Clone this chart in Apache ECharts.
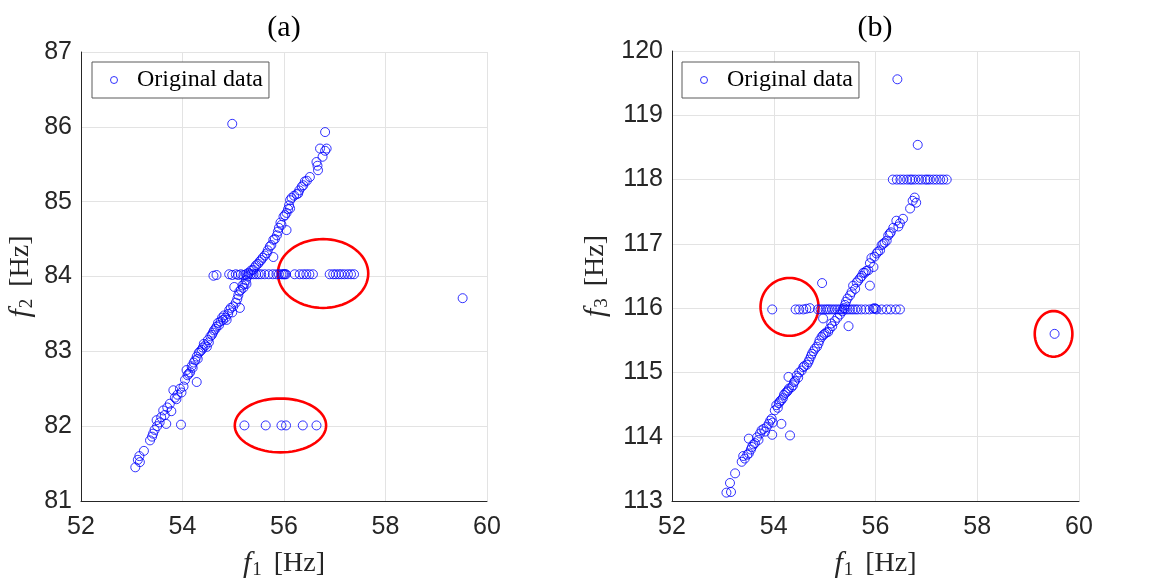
<!DOCTYPE html>
<html>
<head>
<meta charset="utf-8">
<title>f1-f2 / f1-f3 scatter</title>
<script src="https://cdn.jsdelivr.net/npm/echarts@6/dist/echarts.min.js"></script>
<style>
  html, body { margin: 0; padding: 0; background: #fff; }
  #chart { width: 1153px; height: 579px; }
</style>
</head>
<body>
<div id="chart"></div>
<script>
// ---- data ----
// (a) f1 vs f2 : main diagonal branch
const branchA = [
  [53.07, 81.45], [53.12, 81.55], [53.15, 81.6], [53.16, 81.52], [53.24, 81.67], [53.36, 81.81],
  [53.4, 81.86], [53.42, 81.9], [53.45, 81.95], [53.49, 82.08], [53.5, 82.0], [53.55, 82.05],
  [53.58, 82.12], [53.62, 82.21], [53.65, 82.15], [53.68, 82.03], [53.7, 82.25], [53.75, 82.3],
  [53.78, 82.2], [53.82, 82.48], [53.85, 82.38], [53.88, 82.36], [53.9, 82.42], [53.95, 82.5],
  [53.98, 82.45], [54.02, 82.53], [54.05, 82.62], [54.08, 82.75], [54.1, 82.68], [54.12, 82.7],
  [54.15, 82.72], [54.18, 82.8], [54.2, 82.78], [54.22, 82.85], [54.25, 82.88], [54.28, 82.93],
  [54.28, 82.59], [54.3, 82.9], [54.32, 82.98], [54.35, 83.0], [54.38, 83.02], [54.4, 83.05],
  [54.42, 83.1], [54.45, 83.08], [54.48, 83.06], [54.5, 83.15], [54.52, 83.12], [54.55, 83.2],
  [54.58, 83.22], [54.6, 83.25], [54.62, 83.28], [54.65, 83.3], [54.67, 83.33], [54.7, 83.38],
  [54.72, 83.35], [54.75, 83.4], [54.78, 83.45], [54.8, 83.42], [54.82, 83.48], [54.85, 83.45],
  [54.87, 83.42], [54.9, 83.5], [54.92, 83.55], [54.95, 83.58], [54.98, 83.52], [55.0, 83.6],
  [55.02, 83.86], [55.05, 83.65], [55.08, 83.7], [55.1, 83.75], [55.12, 83.8], [55.13, 83.58],
  [55.15, 83.82], [55.18, 83.88], [55.2, 83.85], [55.22, 83.9], [55.25, 83.95], [55.26, 83.9],
  [55.28, 84.0], [55.3, 84.05], [55.35, 84.08], [55.39, 84.09], [55.42, 84.12], [55.45, 84.15],
  [55.49, 84.17], [55.52, 84.2], [55.55, 84.22], [55.58, 84.25], [55.62, 84.28], [55.66, 84.31],
  [55.68, 84.35], [55.72, 84.4], [55.75, 84.42], [55.79, 84.49], [55.79, 84.26], [55.82, 84.5],
  [55.86, 84.55], [55.88, 84.6], [55.9, 84.65], [55.93, 84.72], [55.95, 84.69], [55.99, 84.8],
  [56.02, 84.82], [56.05, 84.62], [56.05, 84.85], [56.08, 84.9], [56.1, 84.95], [56.12, 84.91],
  [56.12, 85.02], [56.15, 85.05], [56.2, 85.08], [56.25, 85.1], [56.28, 85.11], [56.3, 85.15],
  [56.35, 85.2], [56.38, 85.22], [56.41, 85.27], [56.45, 85.28], [56.51, 85.33], [56.64, 85.53],
  [56.66, 85.48], [56.67, 85.42], [56.71, 85.71], [56.76, 85.6], [56.81, 85.68], [56.84, 85.71],
  [56.81, 85.93]
]
// (a) plateau near 84 Hz
const plateauA84 = [
  [54.61, 84.01], [54.67, 84.02], [54.92, 84.03], [54.98, 84.02], [55.05, 84.03], [55.1, 84.02],
  [55.15, 84.03], [55.2, 84.02], [55.25, 84.03], [55.3, 84.03], [55.35, 84.03], [55.4, 84.03],
  [55.45, 84.03], [55.5, 84.03], [55.55, 84.03], [55.62, 84.03], [55.7, 84.03], [55.78, 84.03],
  [55.85, 84.03], [55.9, 84.03], [55.95, 84.03], [55.98, 84.03], [56.0, 84.03], [56.02, 84.03],
  [56.04, 84.03], [56.21, 84.03], [56.31, 84.03], [56.38, 84.03], [56.44, 84.03], [56.5, 84.03],
  [56.57, 84.03], [56.9, 84.03], [56.97, 84.03], [57.02, 84.03], [57.08, 84.03], [57.13, 84.03],
  [57.19, 84.03], [57.26, 84.03], [57.32, 84.03], [57.38, 84.03]
]
// (a) plateau near 82 Hz
const plateauA82 = [
  [55.22, 82.01], [55.64, 82.01], [55.95, 82.01], [56.04, 82.01], [56.37, 82.01], [56.64, 82.01]
]
// (a) isolated points
const outliersA = [[54.98, 86.04], [53.97, 82.02], [59.52, 83.71]]

// (b) f1 vs f3 : main diagonal branch
const branchB = [
  [53.07, 113.13], [53.16, 113.14], [53.14, 113.28], [53.24, 113.43], [53.37, 113.61], [53.43, 113.66],
  [53.4, 113.7], [53.48, 113.72], [53.51, 113.74], [53.51, 113.97], [53.55, 113.8], [53.57, 113.84],
  [53.6, 113.88], [53.63, 113.9], [53.67, 113.99], [53.7, 113.95], [53.73, 114.05], [53.76, 114.1],
  [53.8, 114.12], [53.83, 114.08], [53.86, 114.15], [53.9, 114.2], [53.93, 114.25], [53.96, 114.28],
  [53.97, 114.03], [53.98, 114.22], [54.02, 114.41], [54.05, 114.49], [54.08, 114.45], [54.1, 114.52],
  [54.12, 114.55], [54.15, 114.57], [54.15, 114.2], [54.18, 114.6], [54.2, 114.65], [54.23, 114.68],
  [54.26, 114.7], [54.28, 114.72], [54.29, 114.93], [54.3, 114.75], [54.35, 114.77], [54.38, 114.8],
  [54.4, 114.85], [54.42, 114.87], [54.45, 114.95], [54.48, 114.92], [54.5, 115.0], [54.55, 115.03],
  [54.58, 115.08], [54.6, 115.1], [54.65, 115.12], [54.68, 115.16], [54.7, 115.2], [54.73, 115.25],
  [54.75, 115.29], [54.78, 115.33], [54.81, 115.37], [54.85, 115.4], [54.88, 115.45], [54.9, 115.5],
  [54.94, 115.55], [54.97, 115.58], [54.97, 115.84], [55.0, 115.6], [55.03, 115.62], [55.07, 115.63],
  [55.1, 115.68], [55.13, 115.76], [55.15, 115.72], [55.2, 115.8], [55.25, 115.85], [55.3, 115.9],
  [55.35, 115.95], [55.38, 116.0], [55.4, 116.05], [55.42, 116.1], [55.45, 116.15], [55.47, 115.72],
  [55.5, 116.2], [55.53, 116.25], [55.56, 116.35], [55.6, 116.3], [55.63, 116.4], [55.66, 116.43],
  [55.7, 116.47], [55.73, 116.5], [55.76, 116.55], [55.79, 116.55], [55.82, 116.58], [55.86, 116.59],
  [55.89, 116.35], [55.89, 116.7], [55.92, 116.78], [55.96, 116.64], [55.98, 116.8], [56.02, 116.85],
  [56.05, 116.88], [56.09, 116.9], [56.12, 116.98], [56.15, 117.0], [56.18, 117.02], [56.22, 117.05],
  [56.25, 117.13], [56.28, 117.16], [56.3, 117.18], [56.35, 117.25], [56.41, 117.36], [56.45, 117.27],
  [56.48, 117.32], [56.54, 117.39], [56.68, 117.55], [56.73, 117.67], [56.77, 117.72], [56.8, 117.64]
]
// (b) plateau near 116 Hz
const plateauB116 = [
  [53.97, 115.98], [54.43, 115.98], [54.5, 115.98], [54.58, 115.98], [54.64, 115.99], [54.71, 116.0],
  [54.87, 115.98], [54.92, 115.98], [54.97, 115.98], [55.02, 115.98], [55.06, 115.98], [55.1, 115.98],
  [55.15, 115.98], [55.2, 115.98], [55.25, 115.98], [55.3, 115.98], [55.35, 115.98], [55.4, 115.98],
  [55.45, 115.98], [55.5, 115.98], [55.55, 115.98], [55.6, 115.98], [55.65, 115.98], [55.72, 115.98],
  [55.8, 115.98], [55.88, 115.98], [55.95, 115.99], [55.98, 116.0], [56.0, 115.99], [56.02, 115.98],
  [56.12, 115.98], [56.22, 115.98], [56.3, 115.98], [56.4, 115.98], [56.48, 115.98]
]
// (b) plateau near 118 Hz
const plateauB118 = [
  [56.34, 118.0], [56.42, 118.0], [56.49, 118.0], [56.55, 118.0], [56.62, 118.0], [56.68, 118.0],
  [56.72, 118.0], [56.78, 118.0], [56.85, 118.0], [56.91, 118.0], [56.98, 118.0], [57.02, 118.0],
  [57.07, 118.0], [57.14, 118.0], [57.2, 118.0], [57.27, 118.0], [57.33, 118.0], [57.4, 118.0]
]
// (b) isolated points
const outliersB = [[54.95, 116.39], [56.43, 119.56], [56.83, 118.54], [54.32, 114.02], [59.52, 115.6]]

// red highlight ellipses: [centre f1, centre f, half-width, half-height] in Hz
const ellipsesA = [[56.77, 84.04, 0.89, 0.46], [55.93, 82.01, 0.9, 0.36]]
const ellipsesB = [[54.31, 116.02, 0.57, 0.45], [59.5, 115.6, 0.37, 0.355]]

// axis ranges / ticks
const xTicks = { min: 52, max: 60, interval: 2 }
const yTicksA = { min: 81, max: 87, interval: 1 }
const yTicksB = { min: 113, max: 120, interval: 1 }

const chart = echarts.init(document.getElementById('chart'))

const serif = '"Liberation Serif", "DejaVu Serif", serif'
const sans = '"Liberation Sans", Arial, sans-serif'
const axisColor = '#262626'
const blue = '#0000ff'

// rich text for "f_n [Hz]"
const nameRich = {
  i: { fontFamily: serif, fontStyle: 'italic', fontSize: 30, color: axisColor },
  s: { fontFamily: serif, fontSize: 19, color: axisColor, padding: [13, 12, 0, 1] },
  u: { fontFamily: serif, fontSize: 28, color: axisColor }
}

// shared axis styling
const makeX = (gridIndex) => ({
  type: 'value',
  gridIndex,
  min: xTicks.min,
  max: xTicks.max,
  interval: xTicks.interval,
  name: '{i|f}{s|1}{u|[Hz]}',
  nameLocation: 'middle',
  nameGap: 47,
  nameTextStyle: { fontFamily: serif, fontSize: 28, color: axisColor, rich: nameRich },
  axisLine: { show: true, lineStyle: { color: axisColor, width: 1 } },
  axisTick: { show: false },
  axisLabel: { fontFamily: sans, fontSize: 25, color: axisColor, margin: 14 },
  splitLine: { show: true, lineStyle: { color: '#e3e3e3', width: 1 } }
})

const makeY = (gridIndex, ticks, sub, gap) => ({
  type: 'value',
  gridIndex,
  min: ticks.min,
  max: ticks.max,
  interval: ticks.interval,
  name: '{i|f}{s|' + sub + '}{u|[Hz]}',
  nameLocation: 'middle',
  nameRotate: 90,
  nameGap: gap,
  nameTextStyle: { fontFamily: serif, fontSize: 28, color: axisColor, rich: nameRich },
  axisLine: { show: true, onZero: false, lineStyle: { color: axisColor, width: 1 } },
  axisTick: { show: false },
  axisLabel: { fontFamily: sans, fontSize: 25, color: axisColor, margin: 9 },
  splitLine: { show: true, lineStyle: { color: '#e3e3e3', width: 1 } }
})

const scatterStyle = { color: 'rgba(0,0,0,0)', borderColor: blue, borderWidth: 1 }

const makeScatter = (idx, data) => ({
  name: 'Original data',
  type: 'scatter',
  xAxisIndex: idx,
  yAxisIndex: idx,
  symbol: 'circle',
  symbolSize: 9,
  itemStyle: scatterStyle,
  emphasis: { disabled: true },
  data
})

// ellipse drawn in data coordinates
const makeEllipses = (idx, data) => ({
  type: 'custom',
  xAxisIndex: idx,
  yAxisIndex: idx,
  silent: true,
  encode: { x: 0, y: 1 },
  renderItem: (params, api) => {
    const cx = api.value(0), cy = api.value(1), rx = api.value(2), ry = api.value(3)
    const pts = []
    for (let k = 0; k <= 72; k++) {
      const t = (k / 72) * Math.PI * 2
      pts.push(api.coord([cx + rx * Math.cos(t), cy + ry * Math.sin(t)]))
    }
    return {
      type: 'polygon',
      shape: { points: pts },
      style: { fill: 'none', stroke: '#ff0000', lineWidth: 2.6 }
    }
  },
  data
})

const legendBase = {
  orient: 'vertical',
  top: 62,
  padding: [6, 6, 6, 18],
  itemWidth: 36,
  itemHeight: 7,
  icon: 'circle',
  backgroundColor: '#fff',
  borderColor: '#5a5a5a',
  borderWidth: 1,
  borderRadius: 0,
  selectedMode: false,
  itemStyle: { color: 'rgba(0,0,0,0)', borderColor: blue, borderWidth: 1 },
  textStyle: { fontFamily: serif, fontSize: 24, color: '#000', padding: [2, 0, 0, 0] },
  data: ['Original data']
}

const option = {
  backgroundColor: '#fff',
  animation: false,
  graphic: [
    { type: 'text', x: 284, y: 28, style: { text: '(a)', font: '30px ' + serif, fill: '#000', align: 'center', verticalAlign: 'middle' } },
    { type: 'text', x: 875, y: 28, style: { text: '(b)', font: '30px ' + serif, fill: '#000', align: 'center', verticalAlign: 'middle' } }
  ],
  legend: [
    Object.assign({}, legendBase, { left: 92 }),
    Object.assign({}, legendBase, { left: 682 })
  ],
  grid: [
    { left: 81, top: 52, width: 406, height: 449, outerBoundsMode: 'none' },
    { left: 672, top: 51, width: 407, height: 450, outerBoundsMode: 'none' }
  ],
  xAxis: [makeX(0), makeX(1)],
  yAxis: [makeY(0, yTicksA, '2', 44), makeY(1, yTicksB, '3', 60)],
  series: [
    makeScatter(0, branchA.concat(plateauA84, plateauA82, outliersA)),
    makeScatter(1, branchB.concat(plateauB116, plateauB118, outliersB)),
    makeEllipses(0, ellipsesA),
    makeEllipses(1, ellipsesB)
  ]
}

chart.setOption(option)

window.addEventListener('resize', () => chart.resize())
</script>
</body>
</html>
